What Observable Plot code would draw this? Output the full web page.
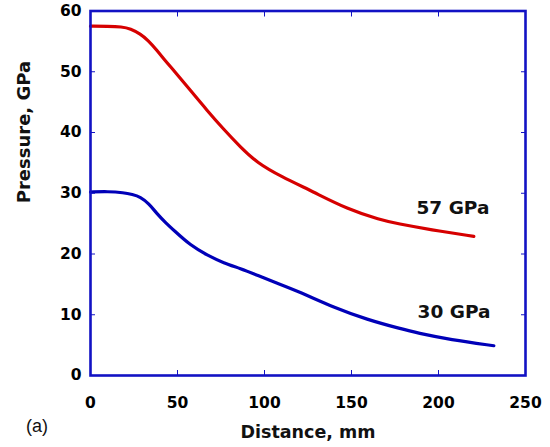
<!DOCTYPE html>
<html>
<head>
<meta charset="utf-8">
<script src="https://cdn.jsdelivr.net/npm/d3@7"></script>
<script src="https://cdn.jsdelivr.net/npm/@observablehq/plot@0.6"></script>
<style>
  html, body { margin: 0; padding: 0; background: #fff; }
  #chart svg { display: block; }
</style>
</head>
<body>
<div id="chart"></div>
<script>
// ---- data ----
const redX  = [0, 10, 18, 23, 28.7, 33, 38.3, 43, 47.9, 57.5, 67.1, 76.6, 86.2, 95.8, 109.2, 128.3, 147.5, 166.7, 176.3, 195.4, 220.3];
const redY  = [57.5, 57.5, 57.4, 57.1, 56.2, 55.2, 53.5, 51.8, 50.2, 46.9, 43.6, 40.5, 37.6, 35.0, 32.8, 30.2, 27.4, 25.6, 25.0, 24.0, 22.9];
const blueX = [0, 10, 19.1, 24, 28.7, 33.5, 38.3, 43, 47.9, 57.5, 67.1, 76.6, 86.2, 95.8, 105.3, 120.7, 139.8, 159, 178.2, 187.7, 206.9, 231.8];
const blueY = [30.2, 30.3, 30.1, 29.8, 29.4, 28.3, 26.6, 25.2, 23.9, 21.4, 19.8, 18.5, 17.6, 16.5, 15.4, 13.7, 11.2, 9.2, 7.7, 7.0, 5.9, 4.9];
const seriesLabels = ["57 GPa", "30 GPa"];
const labelX = [208.3, 208.9];
const labelY = [27.6, 10.4];
const xTicks = [0, 50, 100, 150, 200, 250];
const yTicks = [0, 10, 20, 30, 40, 50, 60];
const xTitle = "Distance, mm";
const yTitle = "Pressure, GPa";
const panelTag = "(a)";

// ---- build ----
const red = redX.map((x, i) => ({x, y: redY[i]}));
const blue = blueX.map((x, i) => ({x, y: blueY[i]}));
const labels = seriesLabels.map((t, i) => ({t, x: labelX[i], y: labelY[i]}));

const frameBlue = "#1212c4";
const font = "DejaVu Sans";
const noText = () => "";

const chart = Plot.plot({
  width: 550,
  height: 447,
  marginLeft: 90,
  marginRight: 25,
  marginTop: 10.5,
  marginBottom: 72,
  style: {fontFamily: font, background: "#fff", color: "#000"},
  x: {domain: [0, 250], label: null},
  y: {domain: [0, 60], label: null},
  marks: [
    Plot.line(red, {x: "x", y: "y", stroke: "#d60000", strokeWidth: 3.2, curve: "basis"}),
    Plot.line(blue, {x: "x", y: "y", stroke: "#0000b8", strokeWidth: 3.2, curve: "basis"}),
    Plot.axisX({anchor: "bottom", ticks: xTicks, tickSize: -5, tickPadding: 26, stroke: frameBlue, fill: "#000",
                fontSize: 15.5, fontWeight: "bold", label: null}),
    Plot.axisX({anchor: "top", ticks: xTicks, tickSize: -5, tickFormat: noText, stroke: frameBlue, label: null}),
    Plot.axisY({anchor: "left", ticks: yTicks, tickSize: -5, tickPadding: 14, stroke: frameBlue, fill: "#000",
                fontSize: 15.5, fontWeight: "bold", label: null}),
    Plot.axisY({anchor: "right", ticks: yTicks, tickSize: -5, tickFormat: noText, stroke: frameBlue, label: null}),
    Plot.frame({stroke: frameBlue, strokeWidth: 2.6}),
    Plot.text(labels, {x: "x", y: "y", text: "t", fontSize: 18.5, fontWeight: "bold", fill: "#111", lineAnchor: "middle"}),
    Plot.text([xTitle], {frameAnchor: "bottom", dy: 57, fontSize: 17.5, fontWeight: "bold", fill: "#111", lineAnchor: "middle"}),
    Plot.text([yTitle], {frameAnchor: "left", rotate: -90, dx: -66, dy: 10, fontSize: 18, fontWeight: "bold", fill: "#111", lineAnchor: "middle"}),
    Plot.text([panelTag], {frameAnchor: "bottom-left", dx: -64.5, dy: 51, fontSize: 18, fontFamily: "Liberation Sans", fill: "#111", lineAnchor: "middle"})
  ]
});
document.getElementById("chart").appendChild(chart);
</script>
</body>
</html>
